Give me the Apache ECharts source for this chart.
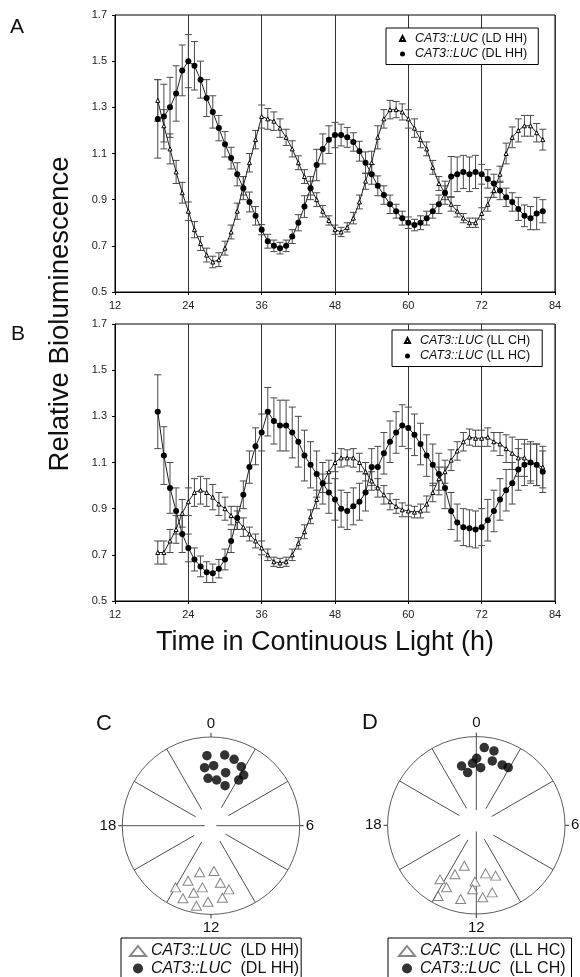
<!DOCTYPE html>
<html><head><meta charset="utf-8">
<script src="https://cdn.jsdelivr.net/npm/echarts@6/dist/echarts.min.js"></script>
<style>html,body{margin:0;padding:0;background:#fff}#c{width:580px;height:977px}</style>
</head><body><div id="c"></div>
<script>
const FONT = "'Liberation Sans', Arial, Helvetica, sans-serif";

// Time in continuous light (h)
const hours = [19,20,21,22,23,24,25,26,27,28,29,30,31,32,33,34,35,36,37,38,39,40,41,42,43,44,45,46,47,48,49,50,51,52,53,54,55,56,57,58,59,60,61,62,63,64,65,66,67,68,69,70,71,72,73,74,75,76,77,78,79,80,81,82];

// Panel A
const ldHH = [1.33,1.22,1.12,1.02,0.93,0.85,0.77,0.71,0.66,0.63,
  0.64,0.69,0.76,0.85,0.96,1.06,1.16,1.26,1.25,1.24,
  1.21,1.17,1.12,1.06,1.00,0.95,0.90,0.85,0.81,0.77,
  0.76,0.78,0.82,0.89,0.98,1.06,1.17,1.25,1.29,1.29,
  1.28,1.25,1.21,1.16,1.12,1.04,0.97,0.93,0.88,0.85,
  0.82,0.80,0.80,0.84,0.88,0.94,1.01,1.10,1.17,1.20,
  1.22,1.22,1.19,1.16];
const ldHHErr = [0.09,0.07,0.065,0.05,0.045,0.04,0.035,0.03,0.03,0.025,
  0.03,0.03,0.03,0.035,0.04,0.04,0.04,0.05,0.045,0.04,
  0.04,0.035,0.035,0.03,0.03,0.03,0.03,0.025,0.02,0.02,
  0.02,0.02,0.025,0.03,0.035,0.05,0.05,0.04,0.04,0.035,
  0.035,0.04,0.04,0.035,0.03,0.03,0.03,0.03,0.03,0.025,
  0.02,0.02,0.02,0.025,0.03,0.03,0.035,0.045,0.045,0.05,
  0.045,0.045,0.04,0.045];
const dlHH = [1.25,1.26,1.30,1.36,1.46,1.50,1.48,1.42,1.34,1.28,
  1.21,1.14,1.08,1.01,0.95,0.89,0.83,0.77,0.72,0.70,
  0.69,0.70,0.74,0.80,0.87,0.95,1.05,1.12,1.16,1.18,
  1.18,1.17,1.15,1.11,1.06,1.01,0.96,0.92,0.88,0.85,
  0.82,0.80,0.79,0.80,0.82,0.85,0.88,0.93,1.00,1.01,
  1.02,1.01,1.02,1.01,0.99,0.97,0.94,0.91,0.89,0.86,
  0.83,0.82,0.84,0.85];
const dlHHErr = [0.17,0.14,0.13,0.12,0.11,0.115,0.105,0.08,0.08,0.07,
  0.055,0.055,0.047,0.05,0.05,0.043,0.04,0.022,0.03,0.025,
  0.025,0.025,0.03,0.035,0.047,0.05,0.068,0.065,0.06,0.055,
  0.047,0.043,0.04,0.043,0.047,0.043,0.043,0.04,0.04,0.03,
  0.03,0.025,0.025,0.03,0.03,0.03,0.04,0.05,0.087,0.075,
  0.072,0.075,0.072,0.043,0.04,0.04,0.04,0.04,0.04,0.05,
  0.047,0.05,0.07,0.05];

// Panel B
const llCH = [0.71,0.71,0.76,0.81,0.88,0.93,0.97,0.98,0.97,0.95,
  0.92,0.90,0.87,0.85,0.82,0.79,0.76,0.73,0.70,0.67,
  0.665,0.67,0.70,0.75,0.80,0.865,0.94,1.01,1.06,1.10,
  1.12,1.12,1.12,1.10,1.06,1.02,0.99,0.96,0.93,0.91,
  0.895,0.89,0.885,0.89,0.92,0.97,1.03,1.06,1.11,1.15,
  1.19,1.21,1.205,1.205,1.21,1.19,1.18,1.16,1.14,1.12,
  1.12,1.10,1.09,1.08];
const llCHErr = [0.05,0.05,0.05,0.06,0.06,0.06,0.06,0.06,0.06,0.055,
  0.05,0.05,0.04,0.04,0.04,0.03,0.03,0.03,0.025,0.02,
  0.02,0.02,0.025,0.025,0.03,0.03,0.04,0.04,0.05,0.04,
  0.04,0.035,0.04,0.04,0.04,0.04,0.04,0.04,0.035,0.03,
  0.03,0.025,0.025,0.03,0.035,0.04,0.05,0.05,0.045,0.04,
  0.04,0.035,0.035,0.035,0.04,0.04,0.05,0.06,0.07,0.08,
  0.08,0.08,0.09,0.09];
const llHC = [1.32,1.13,0.99,0.89,0.79,0.73,0.68,0.65,0.625,0.62,
  0.64,0.68,0.76,0.86,0.96,1.08,1.17,1.23,1.32,1.28,
  1.26,1.26,1.23,1.19,1.13,1.09,1.05,1.01,0.97,0.94,
  0.90,0.89,0.91,0.93,0.97,1.08,1.08,1.14,1.19,1.23,
  1.26,1.25,1.22,1.18,1.13,1.09,1.05,0.99,0.89,0.84,
  0.82,0.815,0.81,0.82,0.85,0.89,0.94,0.98,1.01,1.07,
  1.09,1.10,1.09,1.06];
const llHCErr = [0.16,0.125,0.11,0.10,0.08,0.06,0.05,0.045,0.045,0.04,
  0.04,0.045,0.05,0.05,0.06,0.07,0.08,0.08,0.105,0.10,
  0.11,0.11,0.11,0.11,0.11,0.10,0.10,0.09,0.09,0.09,
  0.08,0.08,0.08,0.08,0.08,0.08,0.09,0.09,0.09,0.09,
  0.09,0.09,0.09,0.09,0.09,0.09,0.09,0.09,0.08,0.08,
  0.08,0.08,0.08,0.08,0.09,0.09,0.09,0.09,0.09,0.09,
  0.09,0.09,0.09,0.09];

// Axis ticks
const xTicks = [12,24,36,48,60,72,84];
const yTicks = [0.5,0.7,0.9,1.1,1.3,1.5,1.7];
const phaseTicks = [0,6,12,18,24];

// Phase plots: [radius fraction, phase (h)]
const cLD = [[0.541,12.91],[0.512,11.75],[0.672,13.51],[0.651,11.38],[0.802,13.99],[0.702,12.53],[0.746,10.95],[0.78,12.97],[0.878,13.41],[0.858,12.15],[0.822,11.40],[0.917,12.69]];
const cDL = [[0.791,23.78],[0.812,0.73],[0.792,1.28],[0.748,1.81],[0.658,23.58],[0.677,0.17],[0.620,1.03],[0.680,2.19],[0.535,23.76],[0.519,0.47],[0.602,2.08],[0.478,1.29]];
const dHC = [[0.475,13.10],[0.603,13.57],[0.552,11.27],[0.608,10.6],[0.734,14.26],[0.635,12.09],[0.775,13.71],[0.723,12.22],[0.777,11.11],[0.905,13.89],[0.849,12.8],[0.815,11.66]];
const dCH = [[0.881,0.39],[0.862,0.89],[0.756,0.02],[0.748,0.93],[0.700,23.77],[0.689,23.07],[0.652,0.29],[0.741,1.55],[0.744,1.93],[0.602,23.38]];
// radial spokes: [phase (h), inner radius fraction]
const spokesC = [[2,0.235],[4,0.226],[6,0.06],[8,0.19],[10,0.2],[14,0.21],[16,0.22],[18,0.07],[20,0.2],[22,0.21]];
const spokesD = [[0,0.17],[2,0.215],[4,0.2],[8,0.22],[10,0.18],[12,0.07],[14,0.19],[16,0.21],[20,0.22],[22,0.22]];

const chart = echarts.init(document.getElementById('c'), null, {renderer: 'canvas'});

function errBars(xs, ys, es, gi) {
  return {
    type: 'custom', xAxisIndex: gi, yAxisIndex: gi, silent: true, z: 1, animation: false,
    data: xs.map((t, i) => [t, ys[i] - es[i], ys[i] + es[i]]),
    encode: {x: 0, y: [1, 2]},
    renderItem: function (params, api) {
      const x = api.value(0);
      const p1 = api.coord([x, api.value(2)]);
      const p2 = api.coord([x, api.value(1)]);
      const w = 3.5;
      const st = {stroke: '#4a4a4a', lineWidth: 1};
      return {type: 'group', children: [
        {type: 'line', shape: {x1: p1[0], y1: p1[1], x2: p2[0], y2: p2[1]}, style: st},
        {type: 'line', shape: {x1: p1[0] - w, y1: p1[1], x2: p1[0] + w, y2: p1[1]}, style: st},
        {type: 'line', shape: {x1: p2[0] - w, y1: p2[1], x2: p2[0] + w, y2: p2[1]}, style: st}
      ]};
    }
  };
}
function lineSeries(name, xs, ys, gi, tri) {
  return {
    type: 'line', name: name, xAxisIndex: gi, yAxisIndex: gi, z: 3, animation: false,
    data: xs.map((t, i) => [t, ys[i]]),
    symbol: tri ? 'triangle' : 'circle',
    symbolSize: tri ? 4 : 6,
    itemStyle: tri ? {color: '#fff', borderColor: '#000', borderWidth: 1} : {color: '#000', borderColor: '#000', borderWidth: 0},
    lineStyle: {color: '#222', width: 1}
  };
}
const richFmt = function (name) {
  const k = name.indexOf(' ');
  return '{i|' + name.slice(0, k) + '}' + name.slice(k);
};
function legendBox(left, top, names, fs, iw, ih, gap, pad, textPad) {
  return {
    left: left, top: top, width: 220, height: 80, orient: 'vertical', selectedMode: false,
    data: [{name: names[0], icon: 'triangle'}, {name: names[1], icon: 'circle'}],
    itemWidth: iw, itemHeight: ih, itemGap: gap, symbolKeepAspect: true,
    padding: pad, borderColor: '#000', borderWidth: 1, borderRadius: 0,
    backgroundColor: '#fff',
    formatter: richFmt,
    textStyle: {fontFamily: FONT, fontSize: fs, color: '#111', padding: [0, 0, 0, textPad],
      rich: {i: {fontFamily: FONT, fontSize: fs, fontStyle: 'italic', color: '#111'}}}
  };
}
function xAxisDef(gi) {
  return {
    gridIndex: gi, type: 'value', min: xTicks[0], max: xTicks[xTicks.length - 1], interval: 12,
    axisLine: {lineStyle: {color: '#000', width: 1}},
    axisTick: {show: true, length: 3, lineStyle: {color: '#000'}},
    axisLabel: {fontFamily: FONT, fontSize: 11, color: '#222', margin: 8},
    splitLine: {show: true, lineStyle: {color: '#333', width: 1}}
  };
}
function yAxisDef(gi) {
  return {
    gridIndex: gi, type: 'value', min: yTicks[0], max: yTicks[yTicks.length - 1], interval: 0.2,
    axisLine: {lineStyle: {color: '#000', width: 1}},
    axisTick: {show: true, length: 3, lineStyle: {color: '#000'}},
    axisLabel: {fontFamily: FONT, fontSize: 11, color: '#222', margin: 8, formatter: v => v.toFixed(1)},
    splitLine: {show: false}
  };
}
function angleAxisDef(pi) {
  return {
    polarIndex: pi, type: 'value', min: phaseTicks[0], max: phaseTicks[phaseTicks.length - 1], interval: 6,
    startAngle: 90, clockwise: true,
    axisLine: {lineStyle: {color: '#333', width: 0.8}},
    axisTick: {show: true, length: 4, lineStyle: {color: '#333'}},
    axisLabel: {fontFamily: FONT, fontSize: 15, color: '#111', margin: 6},
    splitLine: {show: false}
  };
}
function spokeSeries(spokes, pi) {
  return spokes.map(s => ({
    type: 'line', coordinateSystem: 'polar', polarIndex: pi, silent: true, animation: false,
    symbol: 'none', data: [[s[1], s[0]], [1, s[0]]],
    lineStyle: {color: '#222', width: 0.8}, z: 1
  }));
}
function polarScatter(name, data, pi, tri) {
  return {
    type: 'scatter', name: name, coordinateSystem: 'polar', polarIndex: pi, animation: false, z: 3,
    data: data,
    symbol: tri ? 'triangle' : 'circle',
    symbolSize: tri ? [10, 9] : 9.5,
    itemStyle: tri ? {color: '#fff', borderColor: '#666', borderWidth: 1} : {color: '#000'}
  };
}

const nA = ['CAT3::LUC (LD HH)', 'CAT3::LUC (DL HH)'];
const nB = ['CAT3::LUC (LL CH)', 'CAT3::LUC (LL HC)'];
const nC = ['CAT3::LUC  (LD HH)', 'CAT3::LUC  (DL HH)'];
const nD = ['CAT3::LUC  (LL HC)', 'CAT3::LUC  (LL CH)'];

const txt = (t, x, y, fs) => ({
  type: 'text', x: x, y: y, silent: true,
  style: {text: t, fontFamily: FONT, fontSize: fs, fill: '#111', align: 'left', verticalAlign: 'top'}
});

const option = {
  backgroundColor: '#fff',
  animation: false,
  grid: [
    {left: 115, top: 15, width: 440, height: 277, show: true, borderColor: '#000', borderWidth: 1, backgroundColor: 'transparent'},
    {left: 115, top: 324, width: 440, height: 277, show: true, borderColor: '#000', borderWidth: 1, backgroundColor: 'transparent'}
  ],
  xAxis: [xAxisDef(0), xAxisDef(1)],
  yAxis: [yAxisDef(0), yAxisDef(1)],
  polar: [
    {center: [211, 825.7], radius: 88.7},
    {center: [476.3, 825.3], radius: 88.7}
  ],
  angleAxis: [angleAxisDef(0), angleAxisDef(1)],
  radiusAxis: [
    {polarIndex: 0, type: 'value', min: 0, max: 1, show: false},
    {polarIndex: 1, type: 'value', min: 0, max: 1, show: false}
  ],
  legend: [
    legendBox(386, 28, nA, 12.5, 5, 5, 2.5, [4, 11, 4, 13], 5),
    legendBox(392, 330, nB, 12.5, 5, 5, 2.5, [4, 12, 4, 12], 5),
    legendBox(121, 938, nC, 16, 16, 10, 1.5, [5, 2, 14, 8], 0),
    legendBox(388, 938, nD, 16, 16, 10, 1.5, [5, 6, 14, 10], 0)
  ],
  series: [
    errBars(hours, ldHH, ldHHErr, 0),
    errBars(hours, dlHH, dlHHErr, 0),
    lineSeries(nA[0], hours, ldHH, 0, true),
    lineSeries(nA[1], hours, dlHH, 0, false),
    errBars(hours, llCH, llCHErr, 1),
    errBars(hours, llHC, llHCErr, 1),
    lineSeries(nB[0], hours, llCH, 1, true),
    lineSeries(nB[1], hours, llHC, 1, false),
    ...spokeSeries(spokesC, 0),
    ...spokeSeries(spokesD, 1),
    polarScatter(nC[0], cLD, 0, true),
    polarScatter(nC[1], cDL, 0, false),
    polarScatter(nD[0], dHC, 1, true),
    polarScatter(nD[1], dCH, 1, false)
  ],
  graphic: [
    txt('A', 10, 17, 21),
    txt('B', 11, 324, 21),
    txt('C', 96, 713, 22),
    txt('D', 362, 712, 22),
    {type: 'text', x: 60, y: 314, rotation: Math.PI / 2, silent: true,
     style: {text: 'Relative Bioluminescence', fontFamily: FONT, fontSize: 27.5, fill: '#111', align: 'center', verticalAlign: 'middle'}},
    {type: 'text', x: 325, y: 643, silent: true,
     style: {text: 'Time in Continuous Light (h)', fontFamily: FONT, fontSize: 27, fill: '#111', align: 'center', verticalAlign: 'middle'}}
  ]
};
chart.setOption(option);
</script>
</body></html>
